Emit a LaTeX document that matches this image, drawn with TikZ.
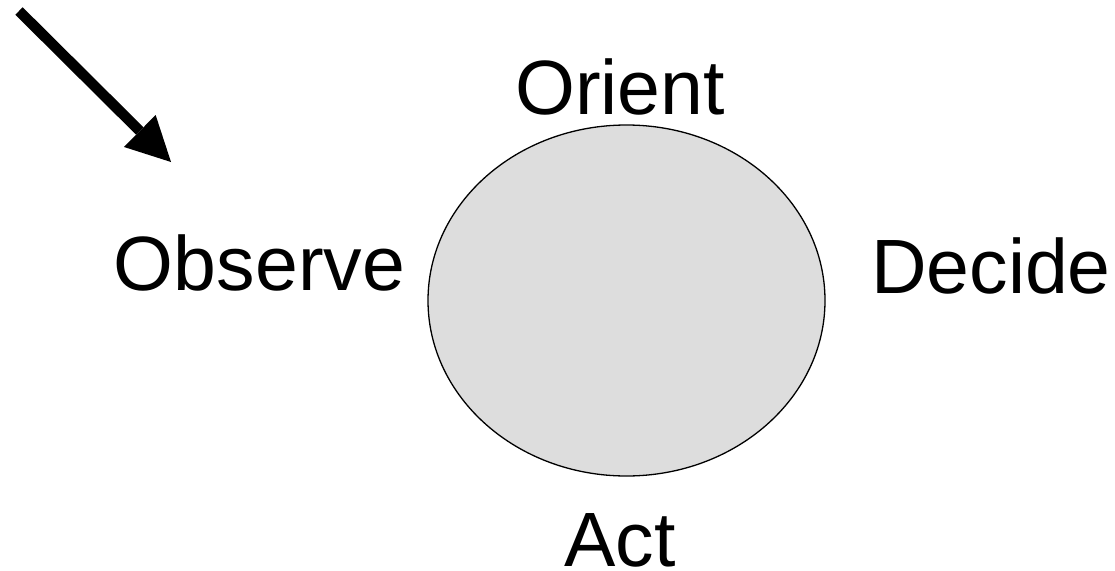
\documentclass[tikz,border=0pt]{standalone}
\usepackage{fontspec}
\setmainfont{Liberation Sans}
\usepackage{tikz}
\usetikzlibrary{shapes.geometric, arrows.meta}

\begin{document}
\begin{tikzpicture}[x=1pt, y=-1pt]
        \tikzstyle{loop} = [ellipse, minimum width=397pt, minimum height=351pt, inner sep=0pt, draw=black, line width=1.3pt, fill={rgb,255:red,221;green,221;blue,221}]
        \tikzstyle{word} = [anchor=base, inner sep=0pt, font=\fontsize{77}{86}\selectfont]
        \tikzstyle{arrow} = [line width=10.5pt, -{Triangle[length=44pt, width=45pt, line width=0pt]}]
        \useasboundingbox (0, 0) rectangle (1115, 570);
        \node [loop] (1) at (626.5, 300.5) {};
	 \node [word] (2) at (620, 114) {Orient};
	 \node [word] (3) at (259.5, 290) {Observe};
	 \node [word] (4) at (991, 293) {Decide};
	 \node [word] (5) at (620, 566) {Act};
	 \coordinate (6) at (19, 11);
	 \coordinate (7) at (171, 162);
     \draw[arrow] (6) to (7);
    \end{tikzpicture}
\end{document}
